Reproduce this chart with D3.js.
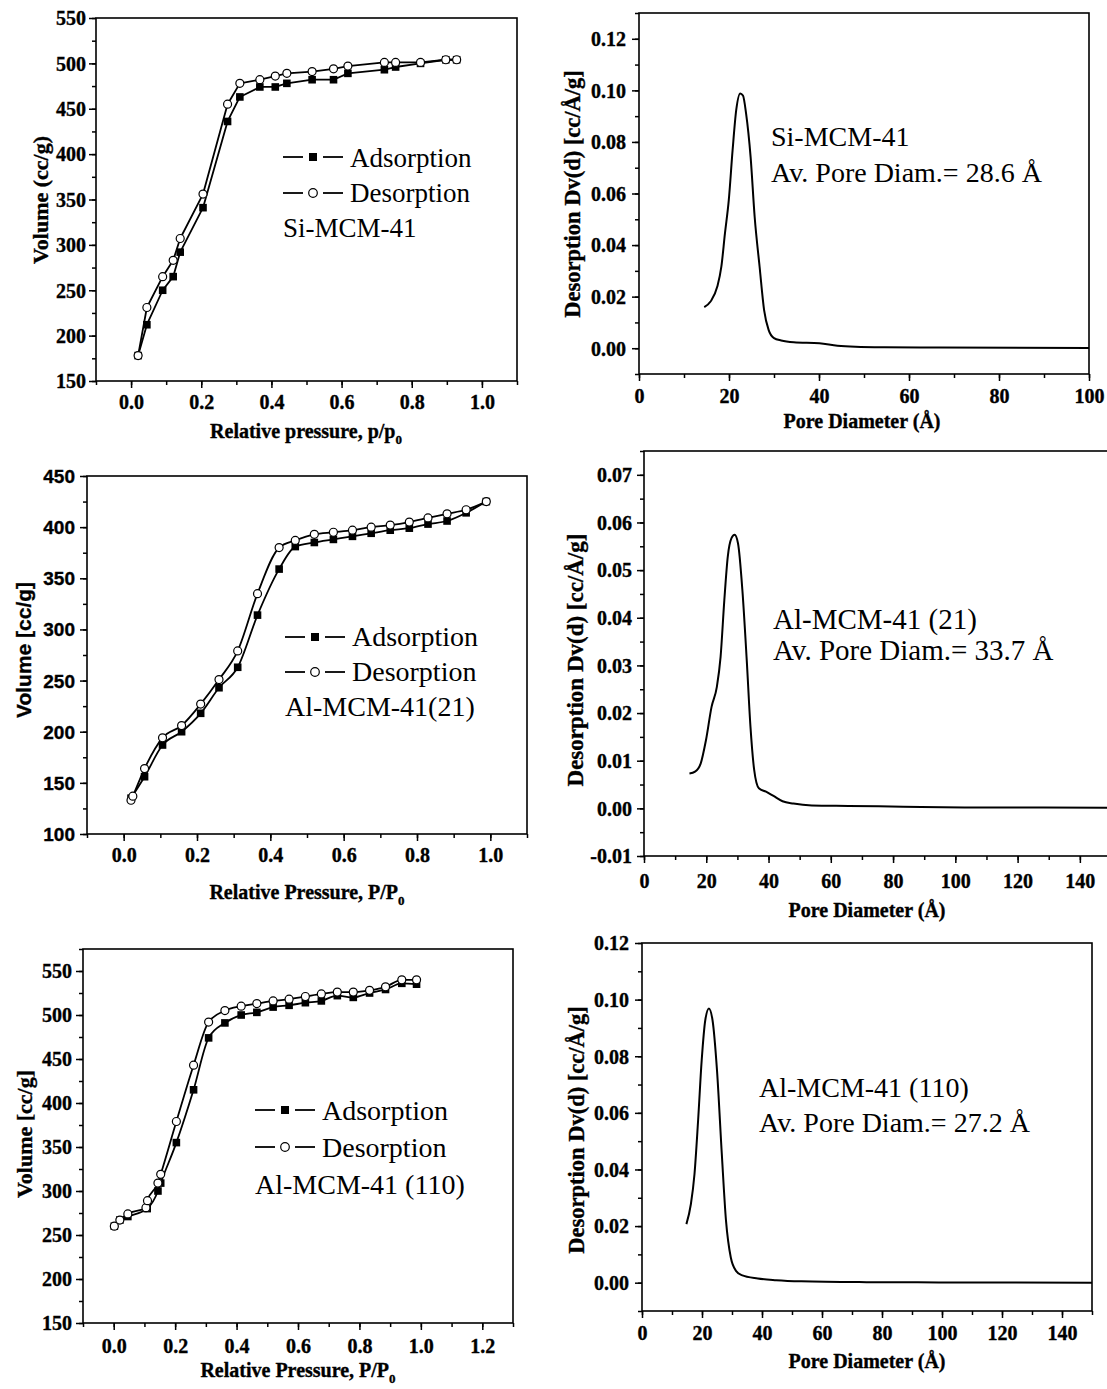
<!DOCTYPE html>
<html>
<head>
<meta charset="utf-8">
<script src="https://cdn.jsdelivr.net/npm/d3@7"></script>
<style>
  body { margin: 0; background: #fff; }
  svg text { fill: #000; }
</style>
</head>
<body>
<div id="chart"></div>
<script>
// ---- Si-MCM-41 isotherm ----
const siP   = [0.02, 0.045, 0.09, 0.12, 0.14, 0.205, 0.275, 0.31, 0.367, 0.411, 0.444, 0.516, 0.577, 0.618, 0.722, 0.754, 0.825, 0.897, 0.928];
const siAds = [178, 212, 250, 265, 292, 341, 436, 463, 474, 474, 478, 482, 482, 489, 493, 496, 500, 504, 504];
const siDes = [178, 231, 265, 283, 307, 356, 455, 478, 482, 486, 489, 491, 494, 497, 501, 501, 501, 504, 504];

// ---- Si-MCM-41 pore size distribution ----
const siD  = [14.5, 15.9, 17.4, 18.3, 19.1, 19.95, 20.8, 21.6, 22.5, 23.1, 23.8, 24.8, 25.7, 26.8, 27.8, 28.8, 30.0, 31.6, 34.4, 40.1, 44.1, 48.1, 54.5, 66.6, 100];
const siDv = [0.0159, 0.0181, 0.0239, 0.0316, 0.0445, 0.0574, 0.0768, 0.0923, 0.0988, 0.0980, 0.091, 0.0742, 0.051, 0.0316, 0.0148, 0.0071, 0.0039, 0.003, 0.0023, 0.0019, 0.001, 0.0006, 0.0004, 0.0003, 0.0001];

// ---- Al-MCM-41(21) isotherm ----
const al21AdsP = [0.02, 0.057, 0.106, 0.158, 0.21, 0.26, 0.311, 0.365, 0.424, 0.468, 0.52, 0.572, 0.624, 0.675, 0.727, 0.779, 0.83, 0.882, 0.934, 0.989];
const al21Ads  = [135, 156, 187, 200, 218, 243, 263, 314, 359, 381, 385, 388, 391, 394, 397, 399, 403, 406, 414, 425];
const al21DesP = [0.02, 0.025, 0.057, 0.106, 0.158, 0.21, 0.26, 0.311, 0.365, 0.424, 0.468, 0.52, 0.572, 0.624, 0.675, 0.727, 0.779, 0.83, 0.882, 0.934, 0.989];
const al21Des  = [133, 137, 164, 194, 206, 227, 251, 279, 335, 380, 387, 393, 395, 397, 400, 402, 405, 409, 413, 417, 425];

// ---- Al-MCM-41(21) pore size distribution ----
const al21D  = [14.6, 16.4, 18.2, 19.9, 21.7, 23.4, 24.6, 25.8, 26.9, 28.1, 29.1, 30.2, 31.6, 33.0, 34.2, 35.4, 36.9, 39.2, 41.6, 44.5, 48.0, 53.9, 65.6, 83.2, 103, 150];
const al21Dv = [0.0073, 0.0077, 0.0094, 0.0143, 0.0213, 0.0255, 0.0318, 0.0437, 0.0528, 0.0567, 0.0574, 0.0556, 0.0458, 0.0311, 0.0171, 0.008, 0.0042, 0.0035, 0.0026, 0.0015, 0.001, 0.0006, 0.0005, 0.00035, 0.0002, 0.00015];

// ---- Al-MCM-41(110) isotherm ----
const al110AdsP = [0.002, 0.02, 0.046, 0.109, 0.144, 0.153, 0.204, 0.26, 0.309, 0.362, 0.415, 0.466, 0.519, 0.571, 0.624, 0.676, 0.728, 0.78, 0.833, 0.885, 0.938, 0.986];
const al110Ads  = [260, 267, 271, 280, 300, 309, 355, 415, 474, 491, 500, 503, 509, 511, 514, 516, 522, 520, 525, 529, 536, 535];
const al110DesP = [0.002, 0.02, 0.046, 0.105, 0.11, 0.144, 0.153, 0.204, 0.26, 0.309, 0.362, 0.415, 0.466, 0.519, 0.571, 0.624, 0.676, 0.728, 0.78, 0.833, 0.885, 0.938, 0.986];
const al110Des  = [260, 267, 274, 281, 289, 309, 319, 379, 443, 492, 505, 510, 513, 516, 518, 521, 524, 526, 526, 528, 532, 540, 540];

// ---- Al-MCM-41(110) pore size distribution ----
const al110D  = [14.8, 16.3, 17.5, 18.7, 19.9, 21.1, 22.3, 23.5, 25.0, 26.6, 28.0, 29.6, 31.4, 33.2, 38.6, 44.7, 53.1, 74.8, 99, 150];
const al110Dv = [0.0207, 0.0278, 0.0384, 0.0573, 0.0786, 0.0928, 0.0969, 0.0928, 0.075, 0.0455, 0.0219, 0.0089, 0.0041, 0.0027, 0.0015, 0.0009, 0.0005, 0.0002, 0.0001, 0];

const serif = "'Liberation Serif', 'Times New Roman', serif";
const sans = "'Liberation Sans', Arial, sans-serif";

const svg = d3.select("#chart")
    .append("svg")
    .attr("width", 1107)
    .attr("height", 1389);

function ticks(a, b, step) {
    return d3.range(Math.round((b - a) / step) + 1).map(i => +(a + i * step).toFixed(6));
}

function zip(xs, ys) {
    return xs.map((d, i) => [d, ys[i]]);
}

// heavier bold look, like the scanned figure
function heavy(sel) {
    sel.style("font-weight", "bold")
        .attr("stroke", "#000").attr("stroke-width", 0.35);
}

// draws a framed panel with outward ticks, returns its scales
function panel(c) {
    const x = d3.scaleLinear().domain(c.xDom).range([c.left, c.right]);
    const y = d3.scaleLinear().domain(c.yDom).range([c.bottom, c.top]);
    const g = svg.append("g");

    // minor ticks
    g.append("g").attr("transform", `translate(0,${c.bottom})`)
        .call(d3.axisBottom(x).tickValues(c.xMinor).tickSize(4).tickFormat(""))
        .call(a => a.select(".domain").remove());
    g.append("g").attr("transform", `translate(${c.left},0)`)
        .call(d3.axisLeft(y).tickValues(c.yMinor).tickSize(4).tickFormat(""))
        .call(a => a.select(".domain").remove());

    // major ticks + labels
    const xa = g.append("g").attr("transform", `translate(0,${c.bottom})`)
        .call(d3.axisBottom(x).tickValues(c.xMajor).tickSize(7).tickFormat(c.xFmt))
        .call(a => a.select(".domain").remove());
    xa.selectAll("text")
        .attr("y", c.xLabOff).attr("dy", null)
        .style("font-family", serif).style("font-size", "20px")
        .call(heavy);

    const ya = g.append("g").attr("transform", `translate(${c.left},0)`)
        .call(d3.axisLeft(y).tickValues(c.yMajor).tickSize(7).tickFormat(c.yFmt))
        .call(a => a.select(".domain").remove());
    ya.selectAll("text")
        .attr("x", -c.yLabOff).attr("dy", "0.34em")
        .style("font-family", c.yFont || serif).style("font-size", c.yFont ? "19px" : "20px")
        .call(heavy);

    g.selectAll(".tick line").attr("stroke", "#000").attr("stroke-width", 1.5);

    // frame
    g.append("rect")
        .attr("x", c.left).attr("y", c.top)
        .attr("width", c.right - c.left).attr("height", c.bottom - c.top)
        .attr("fill", "none").attr("stroke", "#000").attr("stroke-width", 1.6);

    // x title
    const xt = g.append("text")
        .attr("x", c.xTitleX).attr("y", c.xTitleY)
        .attr("text-anchor", "middle")
        .style("font-family", serif).style("font-size", "20px")
        .call(heavy);
    xt.append("tspan").text(c.xTitle);
    if (c.xSub) {
        xt.append("tspan").attr("dy", 6).style("font-size", "13px").text(c.xSub);
    }

    // y title
    g.append("text")
        .attr("transform", `translate(${c.yTitleX},${c.yTitleY}) rotate(-90)`)
        .attr("text-anchor", "middle").attr("dy", "0.35em")
        .style("font-family", c.yTitleFont || serif).style("font-size", c.yTitleSize + "px")
        .call(heavy)
        .text(c.yTitle);

    return { g, x, y };
}

function series(p, pts, curve, marker) {
    const line = d3.line().x(d => p.x(d[0])).y(d => p.y(d[1])).curve(curve);
    p.g.append("path").datum(pts)
        .attr("d", line).attr("fill", "none")
        .attr("stroke", "#000").attr("stroke-width", marker ? 1.8 : 2)
        .attr("stroke-linejoin", "round");
    if (marker === "square") {
        p.g.append("g").selectAll("rect").data(pts).join("rect")
            .attr("x", d => p.x(d[0]) - 3.8).attr("y", d => p.y(d[1]) - 3.8)
            .attr("width", 7.6).attr("height", 7.6).attr("fill", "#000");
    } else if (marker === "circle") {
        p.g.append("g").selectAll("circle").data(pts).join("circle")
            .attr("cx", d => p.x(d[0])).attr("cy", d => p.y(d[1])).attr("r", 4)
            .attr("fill", "#fff").attr("stroke", "#000").attr("stroke-width", 1.2);
    }
}

function legendRow(x0, ym, yb, marker, label, size) {
    const g = svg.append("g");
    g.append("line").attr("x1", x0).attr("x2", x0 + 20).attr("y1", ym).attr("y2", ym)
        .attr("stroke", "#000").attr("stroke-width", 1.8);
    g.append("line").attr("x1", x0 + 40).attr("x2", x0 + 60).attr("y1", ym).attr("y2", ym)
        .attr("stroke", "#000").attr("stroke-width", 1.8);
    if (marker === "square") {
        g.append("rect").attr("x", x0 + 26).attr("y", ym - 4).attr("width", 8).attr("height", 8).attr("fill", "#000");
    } else {
        g.append("circle").attr("cx", x0 + 30).attr("cy", ym).attr("r", 4.3)
            .attr("fill", "#fff").attr("stroke", "#000").attr("stroke-width", 1.2);
    }
    g.append("text").attr("x", x0 + 67).attr("y", yb)
        .style("font-family", serif).style("font-size", size + "px").text(label);
}

function note(x0, yb, label, size) {
    svg.append("text").attr("x", x0).attr("y", yb)
        .style("font-family", serif).style("font-size", size + "px").text(label);
}

const f1 = d3.format(".1f"), f0 = d3.format("d"), f2 = d => d.toFixed(2);

// ---------- Panel 1 : Si-MCM-41 isotherm ----------
const p1 = panel({
    left: 96, right: 517, top: 18, bottom: 381,
    xDom: [-0.1, 1.1], yDom: [150, 550],
    xMajor: ticks(0, 1, 0.2), xMinor: ticks(-0.1, 1.1, 0.1),
    yMajor: ticks(150, 550, 50), yMinor: ticks(150, 550, 25),
    xFmt: f1, yFmt: f0, xLabOff: 28, yLabOff: 10,
    xTitle: "Relative pressure, p/p", xSub: "0", xTitleX: 306, xTitleY: 438,
    yTitle: "Volume (cc/g)", yTitleSize: 22, yTitleX: 40, yTitleY: 200
});
series(p1, zip(siP, siAds), d3.curveLinear, "square");
series(p1, zip(siP, siDes), d3.curveLinear, "circle");
legendRow(283, 157, 167, "square", "Adsorption", 27);
legendRow(283, 193, 202, "circle", "Desorption", 27);
note(283, 237, "Si-MCM-41", 27);

// ---------- Panel 2 : Si-MCM-41 PSD ----------
const p2 = panel({
    left: 639, right: 1089, top: 13, bottom: 374,
    xDom: [0, 100], yDom: [-0.01, 0.13],
    xMajor: ticks(0, 100, 20), xMinor: ticks(0, 100, 10),
    yMajor: ticks(0, 0.12, 0.02), yMinor: ticks(-0.01, 0.13, 0.01),
    xFmt: f0, yFmt: f2, xLabOff: 29, yLabOff: 13,
    xTitle: "Pore Diameter (Å)", xTitleX: 862, xTitleY: 428,
    yTitle: "Desorption Dv(d) [cc/Å/g]", yTitleSize: 22.5, yTitleX: 572, yTitleY: 194
});
series(p2, zip(siD, siDv), d3.curveMonotoneX, null);
note(771, 146, "Si-MCM-41", 28);
note(771, 182, "Av. Pore Diam.= 28.6 Å", 28);

// ---------- Panel 3 : Al-MCM-41(21) isotherm ----------
const p3 = panel({
    left: 87, right: 527, top: 476, bottom: 834,
    xDom: [-0.1, 1.1], yDom: [100, 450],
    xMajor: ticks(0, 1, 0.2), xMinor: ticks(-0.1, 1.1, 0.1),
    yMajor: ticks(100, 450, 50), yMinor: ticks(100, 450, 25),
    xFmt: f1, yFmt: f0, xLabOff: 28, yLabOff: 12, yFont: sans,
    xTitle: "Relative Pressure, P/P", xSub: "0", xTitleX: 307, xTitleY: 899,
    yTitle: "Volume [cc/g]", yTitleFont: sans, yTitleSize: 21, yTitleX: 24, yTitleY: 650
});
series(p3, zip(al21AdsP, al21Ads), d3.curveMonotoneX, "square");
series(p3, zip(al21DesP, al21Des), d3.curveMonotoneX, "circle");
legendRow(285, 637, 646, "square", "Adsorption", 28);
legendRow(285, 672, 681, "circle", "Desorption", 28);
note(285, 716, "Al-MCM-41(21)", 28);

// ---------- Panel 4 : Al-MCM-41(21) PSD ----------
const p4 = panel({
    left: 644, right: 1111, top: 451, bottom: 856,
    xDom: [0, 150], yDom: [-0.01, 0.075],
    xMajor: ticks(0, 140, 20), xMinor: ticks(0, 150, 10),
    yMajor: ticks(-0.01, 0.07, 0.01), yMinor: ticks(-0.01, 0.075, 0.005),
    xFmt: f0, yFmt: f2, xLabOff: 32, yLabOff: 12,
    xTitle: "Pore Diameter (Å)", xTitleX: 867, xTitleY: 917,
    yTitle: "Desorption Dv(d) [cc/Å/g]", yTitleSize: 23, yTitleX: 575, yTitleY: 660
});
series(p4, zip(al21D, al21Dv), d3.curveMonotoneX, null);
note(773, 629, "Al-MCM-41 (21)", 29);
note(773, 660, "Av. Pore Diam.= 33.7 Å", 29);

// ---------- Panel 5 : Al-MCM-41(110) isotherm ----------
const p5 = panel({
    left: 83, right: 513, top: 949, bottom: 1323,
    xDom: [-0.1, 1.3], yDom: [150, 575],
    xMajor: ticks(0, 1.2, 0.2), xMinor: ticks(-0.1, 1.3, 0.1),
    yMajor: ticks(150, 550, 50), yMinor: ticks(150, 575, 25),
    xFmt: f1, yFmt: f0, xLabOff: 30, yLabOff: 11,
    xTitle: "Relative Pressure, P/P", xSub: "0", xTitleX: 298, xTitleY: 1377,
    yTitle: "Volume [cc/g]", yTitleSize: 22, yTitleX: 24, yTitleY: 1134
});
series(p5, zip(al110AdsP, al110Ads), d3.curveMonotoneX, "square");
series(p5, zip(al110DesP, al110Des), d3.curveMonotoneX, "circle");
legendRow(255, 1110, 1120, "square", "Adsorption", 28);
legendRow(255, 1147, 1157, "circle", "Desorption", 28);
note(255, 1194, "Al-MCM-41 (110)", 28);

// ---------- Panel 6 : Al-MCM-41(110) PSD ----------
const p6 = panel({
    left: 642, right: 1092, top: 943, bottom: 1311,
    xDom: [0, 150], yDom: [-0.01, 0.12],
    xMajor: ticks(0, 140, 20), xMinor: ticks(0, 150, 10),
    yMajor: ticks(0, 0.12, 0.02), yMinor: ticks(-0.01, 0.12, 0.01),
    xFmt: f0, yFmt: f2, xLabOff: 29, yLabOff: 13,
    xTitle: "Pore Diameter (Å)", xTitleX: 867, xTitleY: 1368,
    yTitle: "Desorption Dv(d) [cc/Å/g]", yTitleSize: 22.5, yTitleX: 576, yTitleY: 1130
});
series(p6, zip(al110D, al110Dv), d3.curveMonotoneX, null);
note(759, 1097, "Al-MCM-41 (110)", 28);
note(759, 1132, "Av. Pore Diam.= 27.2 Å", 28);
</script>
</body>
</html>
